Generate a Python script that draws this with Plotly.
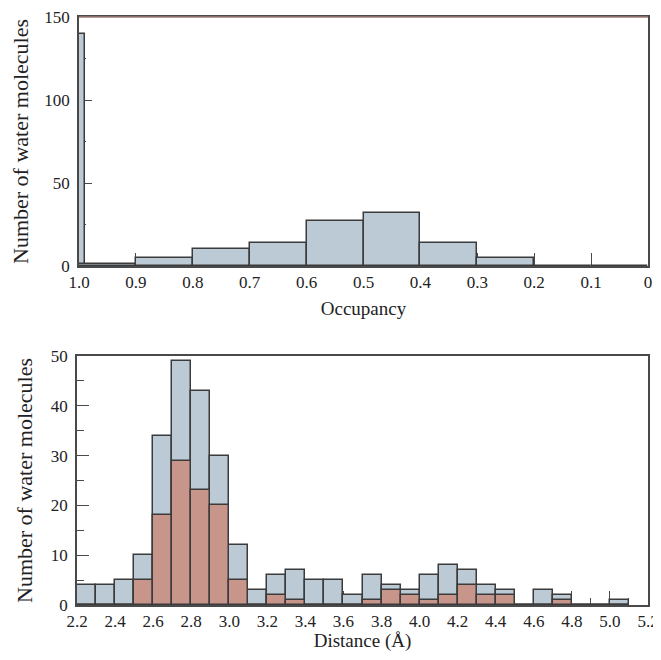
import plotly.graph_objects as go

# ---------------- data ----------------
# Top panel: occupancy histogram (bin left edge, width, count)
occ_left = [0.99, 0.9, 0.8, 0.7, 0.6, 0.5, 0.4, 0.3, 0.2, 0.1, 0.0]
occ_width = [0.01, 0.1, 0.1, 0.1, 0.1, 0.1, 0.1, 0.1, 0.1, 0.1, 0.1]
occ_count = [140, 1, 5, 10, 14, 27, 32, 14, 5, 0, 0]
occ_ticks = [1.0, 0.9, 0.8, 0.7, 0.6, 0.5, 0.4, 0.3, 0.2, 0.1, 0.0]
occ_ticktext = ["1.0", "0.9", "0.8", "0.7", "0.6", "0.5", "0.4", "0.3", "0.2", "0.1", "0"]

# Bottom panel: distance histogram, bins of 0.1 Å starting at 2.2
dist_left = [2.2, 2.3, 2.4, 2.5, 2.6, 2.7, 2.8, 2.9, 3.0, 3.1, 3.2, 3.3, 3.4, 3.5,
             3.6, 3.7, 3.8, 3.9, 4.0, 4.1, 4.2, 4.3, 4.4, 4.5, 4.6, 4.7, 4.8, 4.9, 5.0]
dist_total = [4, 4, 5, 10, 34, 49, 43, 30, 12, 3, 6, 7, 5, 5,
              2, 6, 4, 3, 6, 8, 7, 4, 3, 0, 3, 2, 0, 0, 1]
dist_subset = [0, 0, 0, 5, 18, 29, 23, 20, 5, 0, 2, 1, 0, 0,
               0, 1, 3, 2, 1, 2, 4, 2, 2, 0, 0, 1, 0, 0, 0]
dist_bin = 0.1
dist_ticks = [2.2, 2.4, 2.6, 2.8, 3.0, 3.2, 3.4, 3.6, 3.8, 4.0, 4.2, 4.4, 4.6, 4.8, 5.0, 5.2]
dist_ticktext = ["%.1f" % t for t in dist_ticks]

# ---------------- style ----------------
BLUE = "#bccad6"
RED = "#c8958b"
EDGE = "#3b3b3b"
AXIS = "#4a4a4a"
FONT = "Liberation Serif"
TXT = "#222222"

fig = go.Figure()

fig.add_trace(go.Bar(
    x=[l + w / 2 for l, w in zip(occ_left, occ_width)], y=occ_count, width=occ_width,
    marker=dict(color=BLUE, line=dict(color=EDGE, width=1.5)),
    xaxis="x", yaxis="y", showlegend=False))

fig.add_trace(go.Bar(
    x=[l + dist_bin / 2 for l in dist_left], y=dist_total, width=dist_bin,
    marker=dict(color=BLUE, line=dict(color=EDGE, width=1.5)),
    xaxis="x2", yaxis="y2", showlegend=False))

fig.add_trace(go.Bar(
    x=[l + dist_bin / 2 for l in dist_left], y=dist_subset, width=dist_bin,
    marker=dict(color=RED, line=dict(color=EDGE, width=1.5)),
    xaxis="x2", yaxis="y2", showlegend=False))

# page has an 8px body margin, so the figure starts at (8, 8) on the page
OFF = 8
W, H = 653, 644
def dx(a, b):
    return [(a - OFF) / W, (b - OFF) / W]
def dy(top, bottom):
    return [1 - (bottom - OFF) / H, 1 - (top - OFF) / H]

top_dom_x = dx(79, 648)
top_dom_y = dy(17, 266)
bot_dom_x = dx(77, 648)
bot_dom_y = dy(356, 605)

common = dict(showgrid=False, zeroline=False, showline=True, linecolor=AXIS,
              linewidth=1.5, mirror=True, ticks="inside", tickcolor=AXIS,
              tickwidth=1.2, layer="below traces", automargin=False,
              ticklabeloverflow="allow",
              tickfont=dict(family=FONT, size=17, color=TXT))

fig.update_layout(
    width=W, height=H,
    margin=dict(l=0, r=0, t=0, b=0),
    paper_bgcolor="white", plot_bgcolor="white",
    barmode="overlay", bargap=0,
    font=dict(family=FONT, color=TXT),
    xaxis=dict(domain=top_dom_x, anchor="y", range=[1.0, 0.0],
               tickvals=occ_ticks, ticktext=occ_ticktext, ticklen=13,
               title=dict(text="Occupancy", font=dict(family=FONT, size=19, color=TXT), standoff=11),
               **common),
    yaxis=dict(domain=top_dom_y, anchor="x", range=[0, 150],
               tickvals=[0, 50, 100, 150], ticklen=13, ticklabelstandoff=4,
               minor=dict(tickvals=[25, 75, 125], ticklen=7, ticks="inside", tickcolor=AXIS),
               title=dict(text="Number of water molecules", font=dict(family=FONT, size=22, color=TXT), standoff=12),
               **common),
    xaxis2=dict(domain=bot_dom_x, anchor="y2", range=[2.2, 5.2],
                tickvals=dist_ticks, ticktext=dist_ticktext, ticklen=14,
                minor=dict(dtick=0.1, tick0=2.2, ticklen=7, ticks="inside", tickcolor=AXIS),
                title=dict(text="Distance (Å)", font=dict(family=FONT, size=19, color=TXT), standoff=5),
                **common),
    yaxis2=dict(domain=bot_dom_y, anchor="x2", range=[0, 50],
                tickvals=[0, 10, 20, 30, 40, 50], ticklen=12, ticklabelstandoff=4,
                minor=dict(tickvals=[5, 15, 25, 35, 45], ticklen=7, ticks="inside", tickcolor=AXIS),
                title=dict(text="Number of water molecules", font=dict(family=FONT, size=22, color=TXT), standoff=12),
                **common),
)

# faint reddish top border seen on the upper panel
fig.add_shape(type="line", xref="x domain", yref="y domain", x0=0, x1=1, y0=1, y1=1,
              line=dict(color="#a07a7a", width=1.5))

fig.write_html("out.html")
